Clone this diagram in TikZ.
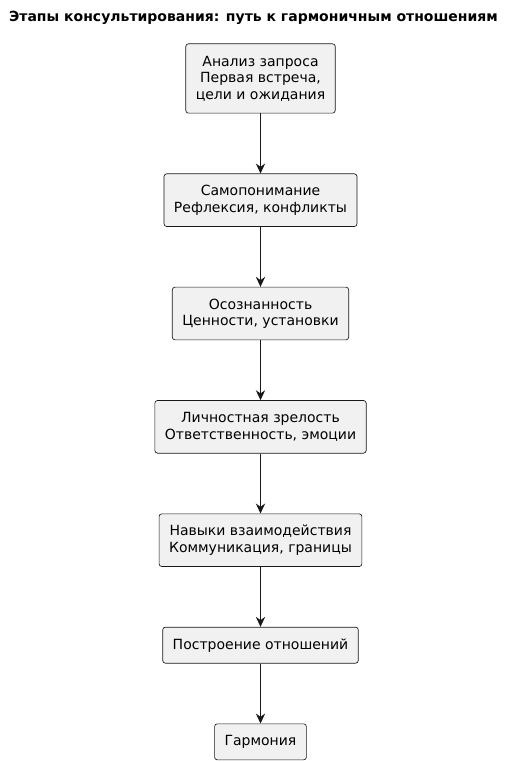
\documentclass[tikz,border=0pt]{standalone}
\usepackage{fontspec}
\setmainfont{DejaVu Sans}
\usepackage{xcolor}
\usetikzlibrary{positioning, arrows.meta}
\definecolor{boxfill}{HTML}{F1F1F1}
\definecolor{boxline}{HTML}{181818}

\begin{document}
\begin{tikzpicture}[
    x=0.75pt, y=-0.75pt,
    >={Stealth[length=7.5pt, width=7pt, inset=2.5pt]},
    node distance=45pt,
    every node/.style={font=\fontsize{10.5}{12.3}\selectfont},
    box/.style={
        draw=boxline, fill=boxfill, line width=0.5pt, rounded corners=2pt,
        align=center, inner xsep=7.5pt, inner ysep=0pt
    },
    one/.style={box, minimum height=27pt},
    two/.style={box, minimum height=39.5pt},
    three/.style={box, minimum height=52pt},
    heading/.style={font=\fontsize{10.5}{12.3}\selectfont\bfseries},
    arrow/.style={->, draw=boxline, line width=0.75pt},
]
\useasboundingbox (0,0) rectangle (514,762);

% --- Title ---
\node[heading] (t) at (253.5,18) {Этапы консультирования: путь к гармоничным отношениям};

% --- Stages ---
\node[three] (s1) at (260.5,78.5) {Анализ запроса\\Первая встреча,\\цели и ожидания};
\node[two, below=of s1] (s2) {Самопонимание\\Рефлексия, конфликты};
\node[two, below=of s2] (s3) {Осознанность\\Ценности, установки};
\node[two, below=of s3] (s4) {Личностная зрелость\\Ответственность, эмоции};
\node[two, below=of s4] (s5) {Навыки взаимодействия\\Коммуникация, границы};
\node[one, below=of s5] (s6) {Построение отношений};
\node[one, below=of s6] (s7) {Гармония};

% --- Arrows ---
\draw[arrow] (s1) -- (s2);
\draw[arrow] (s2) -- (s3);
\draw[arrow] (s3) -- (s4);
\draw[arrow] (s4) -- (s5);
\draw[arrow] (s5) -- (s6);
\draw[arrow] (s6) -- (s7);

\end{tikzpicture}
\end{document}
